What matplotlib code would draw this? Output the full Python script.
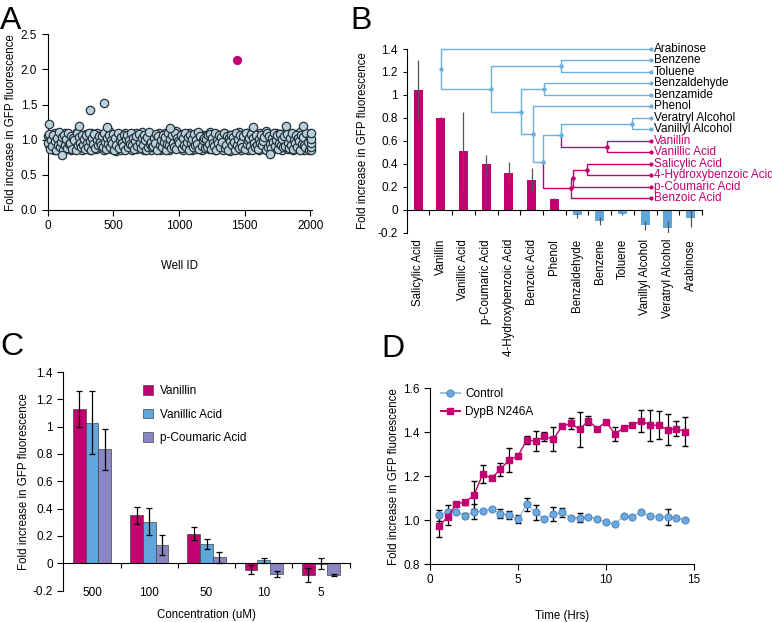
import numpy as np
import matplotlib.pyplot as plt
from matplotlib.lines import Line2D

plt.rcParams['font.family'] = ['Liberation Sans', 'DejaVu Sans']
plt.rcParams['font.size'] = 8.3

MAG = '#c2006f'
BLUE = '#5fa6dc'
PURP = '#8b86c2'
DEND = '#6eaedc'

# ---- panel A: screen of ~2000 wells (two interleaved plate reads) ----
a_vals = [
    1.05, 0.92, 1.02, 0.88, 1.08, 0.95, 0.85, 1.10, 0.98, 0.90, 1.04, 0.87, 1.06, 0.93, 1.00, 0.84, 1.09, 0.96, 0.89, 1.03, 0.91, 1.07, 0.86, 0.99, 1.05,
    0.90, 1.01, 0.87, 1.11, 0.94, 0.88, 1.06, 0.97, 0.85, 1.03, 0.92, 1.08, 0.89, 0.99, 1.04, 0.86, 1.10, 0.93, 0.90, 1.05, 0.95, 0.87, 1.09, 0.98, 0.91,
    1.02, 0.88, 1.07, 0.94, 0.85, 1.04, 0.96, 0.90, 1.12, 0.93, 0.87, 1.01, 0.97, 1.06, 0.89, 0.84, 1.08, 0.95, 1.03, 0.91, 0.86, 1.05, 0.99, 0.92, 1.10,
    0.88, 0.97, 1.04, 0.90, 1.07, 0.85, 0.96, 1.02, 0.93, 1.09, 0.87, 1.00, 0.94, 1.06, 0.89, 1.11, 0.92, 0.86, 1.03, 0.98, 0.90, 1.08, 0.95, 0.85, 1.04,
    0.97, 0.91, 1.06, 0.88, 1.01, 0.94, 1.09, 0.86, 0.99, 1.05, 0.92, 0.87, 1.10, 0.96, 0.90, 1.03, 0.85, 1.07, 0.93, 0.98, 1.02, 0.89, 1.12, 0.95, 0.88,
    1.04, 0.90, 0.97, 1.08, 0.86, 1.01, 0.93, 1.06, 0.88, 0.99, 1.10, 0.91, 0.85, 1.05, 0.96, 1.02, 0.87, 1.09, 0.94, 0.90, 1.03, 0.97, 0.86, 1.07, 0.92,
    0.89, 1.06, 0.95, 1.01, 0.87, 1.11, 0.93, 0.98, 1.04, 0.85, 1.08, 0.91, 0.96, 1.02, 0.88, 1.05, 0.94, 0.86, 1.10, 0.97, 0.90, 1.03, 0.92, 1.07, 0.84,
    1.00, 0.93, 1.08, 0.87, 0.96, 1.04, 0.90, 1.11, 0.95, 0.86, 1.02, 0.98, 0.89, 1.06, 0.92, 1.09, 0.85, 1.01, 0.94, 1.05, 0.88, 0.97, 1.07, 0.91, 0.99,
    1.03, 0.86, 1.09, 0.93, 0.90, 1.05, 0.97, 0.88, 1.12, 0.94, 1.00, 0.85, 1.07, 0.91, 1.02, 0.96, 0.87, 1.10, 0.95, 0.89, 1.04, 0.92, 1.08, 0.86, 0.98,
    0.94, 1.06, 0.89, 1.02, 0.87, 1.09, 0.96, 0.91, 1.05, 0.85, 1.01, 0.97, 1.08, 0.90, 0.93, 1.11, 0.88, 1.03, 0.95, 0.86, 1.07, 0.99, 0.92, 1.04, 0.90,
]
a_vals2 = [
    0.95, 1.08, 0.87, 1.00, 0.91, 1.06, 0.98, 0.86, 1.03, 0.93, 1.11, 0.89, 0.97, 1.04, 0.85, 1.07, 0.92, 1.01, 0.88, 1.09, 0.94, 0.96, 1.05, 0.87, 1.02,
    0.99, 0.85, 1.09, 0.92, 1.04, 0.96, 0.89, 1.07, 0.93, 1.01, 0.87, 1.06, 0.95, 0.90, 1.10, 0.98, 0.86, 1.03, 0.94, 1.08, 0.88, 1.00, 0.92, 1.05, 0.97,
    0.93, 1.05, 0.90, 1.09, 0.97, 0.87, 1.02, 0.94, 1.06, 0.89, 1.00, 0.96, 1.08, 0.86, 1.03, 0.92, 1.10, 0.88, 0.99, 1.04, 0.95, 0.91, 1.07, 0.85, 1.01,
    1.06, 0.89, 1.00, 0.94, 1.10, 0.92, 1.03, 0.87, 0.98, 1.05, 0.91, 1.08, 0.96, 0.88, 1.02, 0.93, 1.07, 0.99, 0.85, 1.04, 0.90, 1.11, 0.94, 0.97, 0.89,
    0.91, 1.03, 0.96, 1.08, 0.85, 1.05, 0.93, 1.00, 0.89, 1.07, 0.97, 1.04, 0.86, 0.94, 1.09, 0.92, 1.01, 0.88, 1.06, 0.95, 0.90, 1.10, 0.87, 1.03, 0.98,
    0.96, 1.07, 0.88, 1.02, 0.93, 1.09, 0.90, 0.97, 1.04, 0.86, 1.06, 0.95, 1.01, 0.89, 1.08, 0.92, 1.00, 0.94, 1.11, 0.87, 1.05, 0.91, 0.99, 1.02, 0.88,
    1.01, 0.90, 1.06, 0.94, 1.08, 0.87, 1.03, 0.96, 0.91, 1.10, 0.85, 1.00, 0.95, 1.07, 0.89, 1.04, 0.97, 1.09, 0.88, 0.93, 1.05, 0.86, 1.02, 0.98, 1.06,
    0.92, 1.04, 0.97, 0.86, 1.09, 0.93, 1.01, 0.88, 1.07, 0.95, 0.90, 1.05, 0.87, 1.10, 0.94, 0.99, 1.03, 0.91, 1.08, 0.85, 1.02, 0.96, 0.89, 1.06, 0.93,
    0.87, 1.01, 0.95, 1.07, 0.92, 0.98, 1.04, 0.86, 1.09, 0.90, 1.05, 0.94, 0.88, 1.03, 0.97, 1.10, 0.91, 0.99, 1.06, 0.87, 0.95, 1.08, 0.93, 1.01, 0.89,
    1.05, 0.91, 1.08, 0.96, 0.88, 1.03, 0.93, 1.10, 0.87, 1.00, 0.95, 1.06, 0.90, 1.02, 0.98, 0.86, 1.07, 0.94, 1.04, 0.92, 0.89, 1.09, 0.97, 0.85, 1.02,
]
a_wells = np.arange(len(a_vals)) * 8
a_wells2 = np.arange(len(a_vals2)) * 8 + 4
out_wells = [12, 111, 241, 322, 429, 450, 932, 1567, 1694, 1816, 1948, 2005, 2005, 2005, 2005, 2005]
out_vals = [1.23, 0.78, 1.19, 1.42, 1.52, 1.18, 1.17, 1.18, 0.80, 1.19, 1.20, 0.85, 0.90, 0.95, 1.01, 1.09]
hit_well, hit_val = 1445, 2.13

# ---- panel B: compound screen ----
b_names = ['Salicylic Acid', 'Vanillin', 'Vanillic Acid', 'p-Coumaric Acid', '4-Hydroxybenzoic Acid',
           'Benzoic Acid', 'Phenol', 'Benzaldehyde', 'Benzene', 'Toluene', 'Vanillyl Alcohol',
           'Veratryl Alcohol', 'Arabinose']
b_vals = [1.04, 0.80, 0.51, 0.40, 0.32, 0.26, 0.095, -0.05, -0.10, -0.035, -0.135, -0.155, -0.075]
b_errs = [0.26, 0.004, 0.34, 0.08, 0.10, 0.10, 0.008, 0.02, 0.035, 0.008, 0.04, 0.06, 0.075]

leaf_names = ['Arabinose', 'Benzene', 'Toluene', 'Benzaldehyde', 'Benzamide', 'Phenol',
              'Veratryl Alcohol', 'Vanillyl Alcohol', 'Vanillin', 'Vanillic Acid',
              'Salicylic Acid', '4-Hydroxybenzoic Acid', 'p-Coumaric Acid', 'Benzoic Acid']
leaf_y = [1.4, 1.3, 1.2, 1.1, 1.0, 0.9, 0.8, 0.7, 0.6, 0.5, 0.4, 0.3, 0.2, 0.1]
leaf_hit = [0, 0, 0, 0, 0, 0, 0, 0, 1, 1, 1, 1, 1, 1]
leaf_x = 10.25
# (child, child, join position)
merges = [(1, 2, 6.29), (3, 4, 5.55), (6, 7, 9.4), (8, 9, 8.3), (10, 11, 7.44),
          (18, 12, 6.83), (19, 13, 6.74), (16, 17, 6.29), (21, 20, 5.48), (5, 22, 5.04),
          (15, 23, 4.52), (14, 24, 3.23), (0, 25, 1.0)]

# ---- panel C: dose response ----
conc = ['500', '100', '50', '10', '5']
van = [1.13, 0.35, 0.217, -0.046, -0.088]
van_err = [0.13, 0.06, 0.05, 0.03, 0.05]
vac = [1.03, 0.305, 0.141, 0.022, -0.005]
vac_err = [0.23, 0.10, 0.04, 0.02, 0.04]
pca = [0.834, 0.134, 0.044, -0.078, -0.088]
pca_err = [0.15, 0.07, 0.04, 0.02, 0.008]

# ---- panel D: time course ----
hrs = [0.5, 1, 1.5, 2, 2.5, 3, 3.5, 4, 4.5, 5, 5.5, 6, 6.5, 7, 7.5, 8, 8.5, 9, 9.5, 10,
       10.5, 11, 11.5, 12, 12.5, 13, 13.5, 14, 14.5]
ctrl = [1.023, 1.038, 1.035, 1.02, 1.038, 1.043, 1.05, 1.03, 1.023, 1.005, 1.072, 1.035, 1.005,
        1.027, 1.035, 1.011, 1.011, 1.016, 1.005, 0.99, 0.982, 1.018, 1.013, 1.038, 1.017, 1.016,
        1.014, 1.011, 1.0]
ctrl_err = [0.025, 0.03, 0, 0.012, 0.035, 0, 0, 0.02, 0.02, 0.02, 0.03, 0.035, 0, 0.033, 0.02,
            0, 0.02, 0, 0, 0, 0, 0, 0, 0, 0, 0, 0.035, 0, 0]
dyp = [0.973, 1.013, 1.075, 1.081, 1.114, 1.21, 1.19, 1.232, 1.274, 1.292, 1.365, 1.36, 1.381,
       1.368, 1.427, 1.44, 1.413, 1.453, 1.416, 1.448, 1.392, 1.42, 1.432, 1.453, 1.432, 1.432,
       1.412, 1.416, 1.403]
dyp_err = [0.05, 0.035, 0, 0.012, 0.065, 0.04, 0, 0.03, 0.055, 0, 0.02, 0.045, 0.02, 0.055, 0,
           0.025, 0.08, 0.02, 0, 0, 0.03, 0, 0, 0.05, 0.07, 0.065, 0.07, 0.035, 0.065]

fig = plt.figure(figsize=(7.72, 6.22), dpi=100)


def clean(ax):
    ax.spines['top'].set_visible(False)
    ax.spines['right'].set_visible(False)
    ax.tick_params(direction='out', length=4, width=0.8, labelsize=8.5)


# A
axA = fig.add_axes([0.0618, 0.6624, 0.3425, 0.2825])
clean(axA)
pt = dict(s=36, facecolor='#b7d0dc', edgecolor='#26333a', linewidth=0.9, clip_on=False, zorder=3)
axA.scatter(a_wells, a_vals, **pt)
axA.scatter(a_wells2, a_vals2, **pt)
axA.scatter(out_wells, out_vals, **pt)
axA.scatter([hit_well], [hit_val], s=36, facecolor=MAG, edgecolor=MAG, linewidth=0.6, zorder=4)
axA.set_xlim(0, 2015)
axA.set_ylim(0, 2.5)
axA.set_xticks([0, 500, 1000, 1500, 2000])
axA.set_yticks([0, 0.5, 1.0, 1.5, 2.0, 2.5])
axA.set_yticklabels(['0.0', '0.5', '1.0', '1.5', '2.0', '2.5'])
axA.set_xlabel('Well ID', labelpad=20)
axA.set_ylabel('Fold increase in GFP fluorescence', labelpad=3)

# B
axB = fig.add_axes([0.5268, 0.6259, 0.3825, 0.2953])
axB.spines['top'].set_visible(False)
axB.spines['right'].set_visible(False)
axB.spines['bottom'].set_position(('data', 0))
x = np.arange(len(b_names))
cols = [MAG if v > 0 else BLUE for v in b_vals]
axB.bar(x, b_vals, width=0.4, color=cols, zorder=2)
axB.errorbar(x, b_vals, yerr=b_errs, fmt='none', ecolor='#555555', elinewidth=0.9, capsize=0, zorder=3)
axB.set_xlim(-0.5, 12.5)
axB.set_ylim(-0.2, 1.4)
axB.set_yticks([-0.2, 0, 0.2, 0.4, 0.6, 0.8, 1.0, 1.2, 1.4])
axB.set_yticklabels(['-0.2', '0', '0.2', '0.4', '0.6', '0.8', '1', '1.2', '1.4'])
axB.set_xticks(x)
axB.set_xticklabels(b_names, rotation=90)
axB.set_xticks(np.arange(0.5, 13, 1), minor=True)
axB.tick_params(axis='x', which='major', length=0, pad=21, labelsize=8.3)
axB.tick_params(axis='x', which='minor', direction='out', length=3.5, width=0.8)
axB.tick_params(axis='y', direction='out', length=3, width=0.8, labelsize=8.5)
axB.set_ylabel('Fold increase in GFP fluorescence', labelpad=6)

# dendrogram drawn over panel B
pos = {i: (leaf_x, y) for i, y in enumerate(leaf_y)}
col = {i: (MAG if h else DEND) for i, h in enumerate(leaf_hit)}
for k, (l, r, xj) in enumerate(merges):
    nid = len(leaf_y) + k
    ym = (pos[l][1] + pos[r][1]) / 2
    for c in (l, r):
        cx, cy = pos[c]
        axB.plot([xj, xj, cx], [ym, cy, cy], color=col[c], lw=1.0, zorder=4, clip_on=False,
                 solid_joinstyle='miter')
        axB.plot([cx], [cy], 'o', color=col[c], ms=2, zorder=5, clip_on=False)
    pos[nid] = (xj, ym)
    col[nid] = MAG if (col[l] == MAG and col[r] == MAG) else DEND
    axB.plot([xj], [ym], 'o', color=col[nid], ms=2, zorder=5, clip_on=False)
for name, y, h in zip(leaf_names, leaf_y, leaf_hit):
    axB.text(leaf_x + 0.12, y, name, va='center', ha='left', fontsize=8.5,
             color=MAG if h else 'black')

# C
axC = fig.add_axes([0.082, 0.0505, 0.371, 0.3514])
axC.spines['top'].set_visible(False)
axC.spines['right'].set_visible(False)
axC.spines['bottom'].set_position(('data', 0))
xc = np.arange(len(conc))
w = 0.222
ek = dict(ecolor='black', elinewidth=0.9, capsize=2.5, capthick=0.9)
axC.bar(xc - w, van, w, yerr=van_err, color=MAG, edgecolor='#444444', linewidth=0.5, error_kw=ek, label='Vanillin')
axC.bar(xc, vac, w, yerr=vac_err, color=BLUE, edgecolor='#444444', linewidth=0.5, error_kw=ek, label='Vanillic Acid')
axC.bar(xc + w, pca, w, yerr=pca_err, color=PURP, edgecolor='#444444', linewidth=0.5, error_kw=ek, label='p-Coumaric Acid')
axC.set_xlim(-0.5, 4.5)
axC.set_ylim(-0.2, 1.4)
axC.set_yticks([-0.2, 0, 0.2, 0.4, 0.6, 0.8, 1.0, 1.2, 1.4])
axC.set_yticklabels(['-0.2', '0', '0.2', '0.4', '0.6', '0.8', '1', '1.2', '1.4'])
axC.set_xticks(xc)
axC.set_xticklabels(conc)
axC.set_xticks(np.arange(0.5, 5, 1), minor=True)
axC.tick_params(axis='x', which='major', length=0, pad=17, labelsize=8.5)
axC.tick_params(axis='x', which='minor', direction='out', length=3.5, width=0.8)
axC.tick_params(axis='y', direction='out', length=4, width=0.8, labelsize=8.5)
axC.set_xlabel('Concentration (uM)', labelpad=7)
axC.set_ylabel('Fold increase in GFP fluorescence', labelpad=2)
axC.legend(loc='upper left', bbox_to_anchor=(0.24, 0.99), frameon=False, handlelength=0.9,
           handleheight=0.9, labelspacing=1.0, handletextpad=0.6, fontsize=8.5)

# D
axD = fig.add_axes([0.557, 0.0932, 0.342, 0.2825])
clean(axD)
axD.errorbar(hrs, ctrl, yerr=ctrl_err, fmt='none', ecolor='black', elinewidth=0.9, capsize=2.5, zorder=2)
axD.errorbar(hrs, dyp, yerr=dyp_err, fmt='none', ecolor='black', elinewidth=0.9, capsize=2.5, zorder=2)
axD.plot(hrs, ctrl, '-', color='#9cc3e6', lw=1, zorder=3)
axD.plot(hrs, ctrl, 'o', ms=5.2, mfc='#6fa8dc', mec='#3d7ab8', mew=0.6, zorder=4)
axD.plot(hrs, dyp, '-s', color=MAG, lw=1, ms=5, zorder=5)
axD.set_xlim(0, 15)
axD.set_ylim(0.8, 1.6)
axD.set_xticks([0, 5, 10, 15])
axD.set_yticks([0.8, 1.0, 1.2, 1.4, 1.6])
axD.set_yticklabels(['0.8', '1.0', '1.2', '1.4', '1.6'])
axD.set_xlabel('Time (Hrs)', labelpad=17)
axD.set_ylabel('Fold increase in GFP fluorescence', labelpad=2)
hD = [Line2D([], [], color='#9cc3e6', marker='o', ms=5.2, mfc='#6fa8dc', mec='#3d7ab8', mew=0.6),
      Line2D([], [], color=MAG, marker='s', ms=5)]
axD.legend(hD, ['Control', 'DypB N246A'], loc='upper left', bbox_to_anchor=(0.0, 1.06),
           frameon=False, handlelength=1.6, handletextpad=0.5, labelspacing=0.5, fontsize=8.5)

for lab, xf, yf in [('A', 0.0, 0.99), ('B', 0.454, 0.99), ('C', 0.0, 0.467), ('D', 0.494, 0.463)]:
    fig.text(xf, yf, lab, fontsize=23, va='top', ha='left')

fig.savefig('out.png', dpi=100)
